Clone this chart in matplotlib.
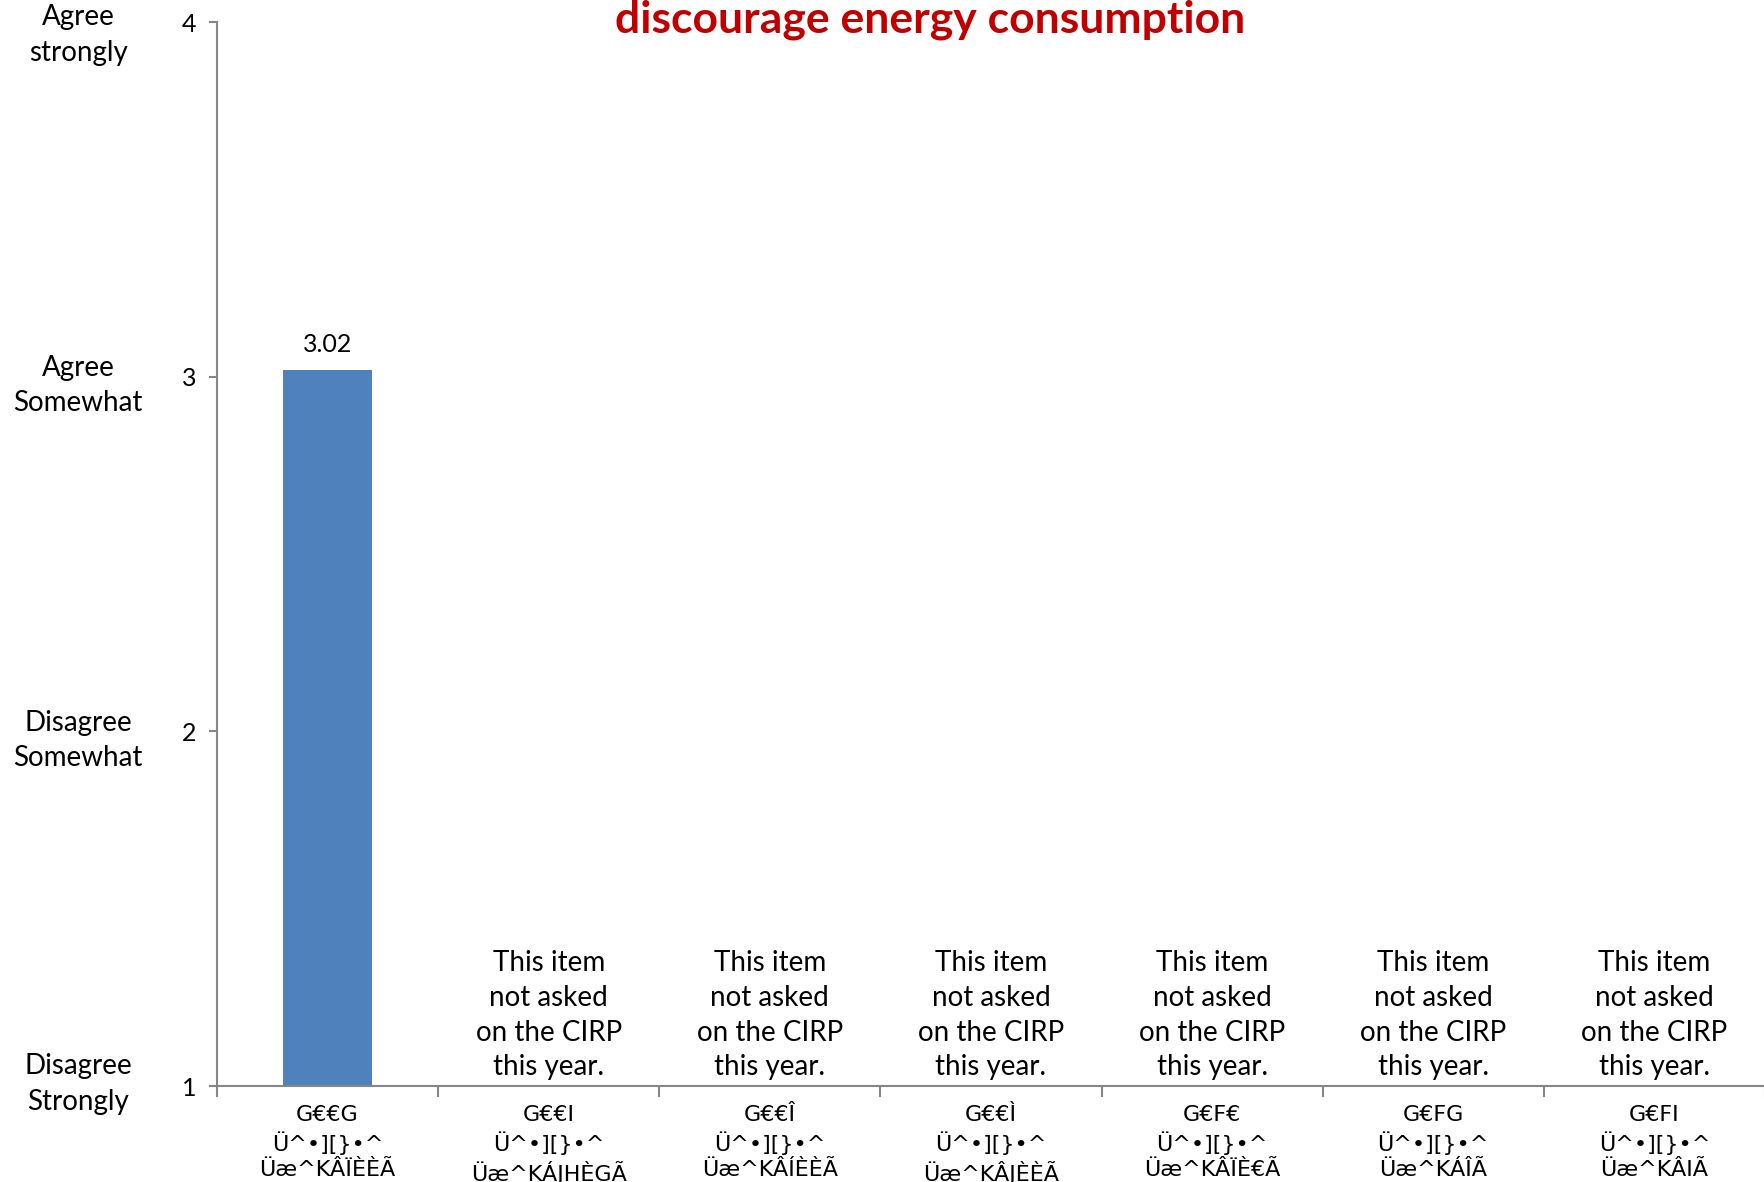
import numpy as np
import matplotlib.pyplot as plt

# data
years = ["G€€G\nÜ^•][}•^\nÜæ^KÂÏÈÈÃ",
         "G€€I\nÜ^•][}•^\nÜæ^KÁJHÈGÃ",
         "G€€Î\nÜ^•][}•^\nÜæ^KÂÍÈÈÃ",
         "G€€Ì\nÜ^•][}•^\nÜæ^KÂJÈÈÃ",
         "G€F€\nÜ^•][}•^\nÜæ^KÂÏÈ€Ã",
         "G€FG\nÜ^•][}•^\nÜæ^KÁÎÃ",
         "G€FI\nÜ^•][}•^\nÜæ^KÂIÃ"]
means = [3.02, np.nan, np.nan, np.nan, np.nan, np.nan, np.nan]
not_asked = "This item\nnot asked\non the CIRP\nthis year."
scale_ticks = [1, 2, 3, 4]
scale_labels = ["Disagree\nStrongly", "Disagree\nSomewhat", "Agree\nSomewhat", "Agree\nstrongly"]
label_shift = [2, -9, -9, -13]
title = "discourage energy consumption"

plt.rcParams['font.family'] = ['Lato', 'DejaVu Sans']
W, H = 1765, 1182
fig = plt.figure(figsize=(W / 100, H / 100), dpi=100)
ax = fig.add_axes([217 / W, 1 - 1086 / H, 1 - 217 / W, (1086 - 22) / H])

x = np.arange(len(years))
ax.bar(x, np.nan_to_num(means, nan=0), width=0.4, color='#4F81BD')
ax.set_ylim(1, 4)
ax.set_xlim(-0.5, len(years) - 0.5)

for i, m in enumerate(means):
    if np.isnan(m):
        ax.annotate(not_asked, (i, 1), xytext=(0, 4), textcoords='offset points',
                    ha='center', va='bottom', fontsize=20, linespacing=1.42)
    else:
        ax.annotate(f"{m:.2f}", (i, m), xytext=(0, 10), textcoords='offset points',
                    ha='center', va='bottom', fontsize=18)

for s in ['top', 'right']:
    ax.spines[s].set_visible(False)
for s in ['left', 'bottom']:
    ax.spines[s].set_color('#868686')
    ax.spines[s].set_linewidth(1.5)

ax.set_yticks(scale_ticks)
ax.set_yticklabels([str(t) for t in scale_ticks], fontsize=18)
ax.tick_params(axis='y', length=6, width=1.5, color='#868686', pad=9)

ax.set_xticks(x)
ax.set_xticklabels(years, fontsize=16, family=['Liberation Sans Narrow', 'DejaVu Sans'],
                   linespacing=1.3)
ax.tick_params(axis='x', length=0, pad=14)
ax.set_xticks(np.arange(-0.5, len(years)), minor=True)
ax.tick_params(axis='x', which='minor', length=8, width=1.5, color='#868686')

for t, lab, dy in zip(scale_ticks, scale_labels, label_shift):
    ax.annotate(lab, (0, t), xycoords=('figure fraction', 'data'),
                xytext=(78, dy), textcoords='offset pixels',
                ha='center', va='center', fontsize=20, linespacing=1.45,
                annotation_clip=False)

fig.text(930 / W, 1 - 20 / H, title, ha='center', va='center', fontsize=32,
         fontweight='bold', color='#C00000')

fig.savefig('out.png', dpi=100)
